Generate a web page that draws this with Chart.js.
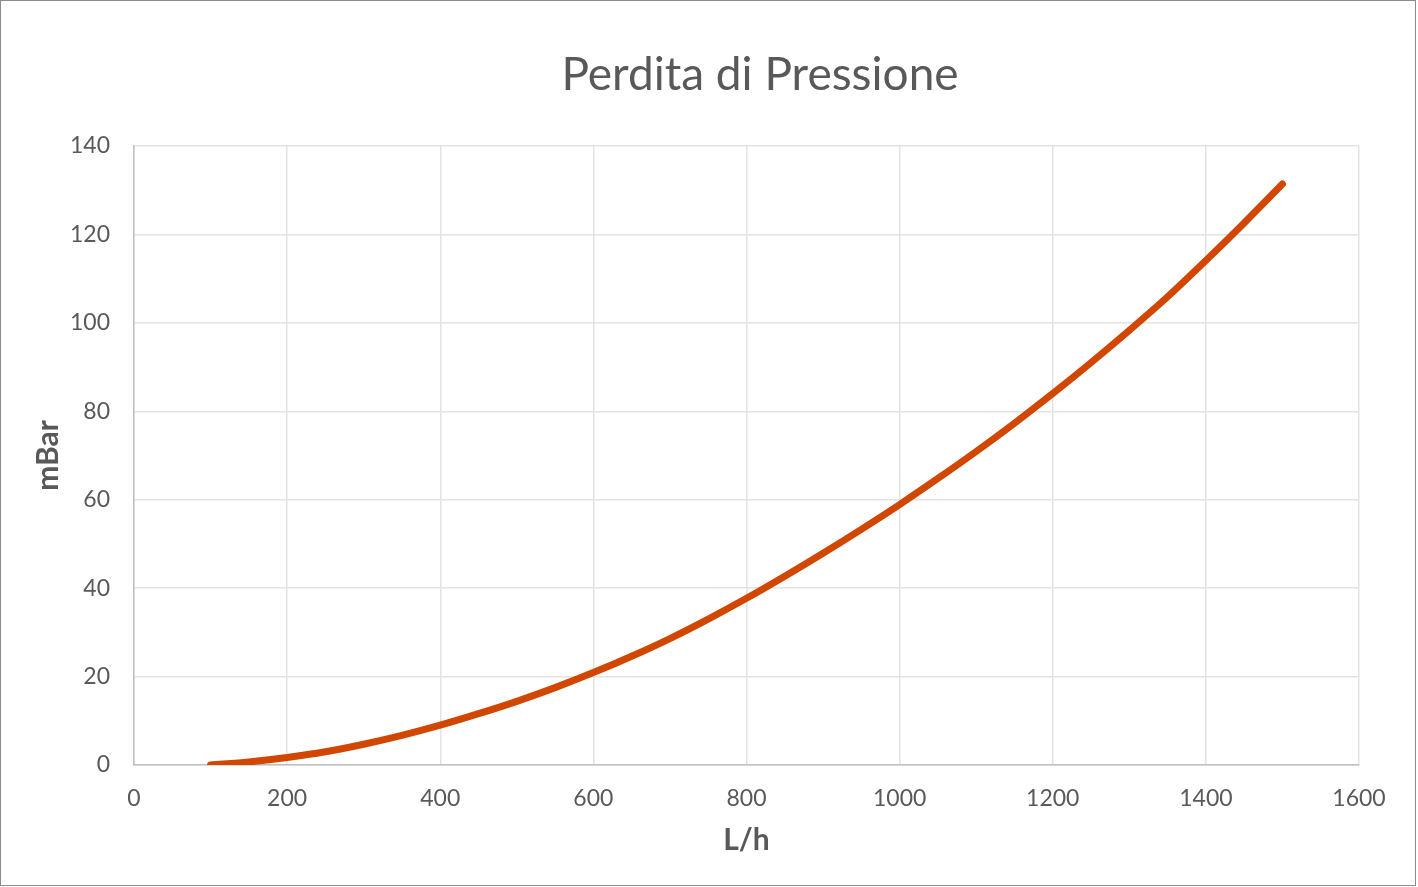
<!DOCTYPE html>
<html>
<head>
<meta charset="utf-8">
<script src="https://cdn.jsdelivr.net/npm/chart.js@4.4.1/dist/chart.umd.min.js"></script>
<style>
  html, body { margin: 0; padding: 0; background: #ffffff; }
  #wrap { position: absolute; left: 0; top: 0; width: 1418px; height: 887px; }
</style>
</head>
<body>
<div id="wrap"><canvas id="c" width="1418" height="887"></canvas></div>
<script>
const chartTitle = "Perdita di Pressione";
const xTitle = "L/h";
const yTitle = "mBar";
const flowLh = [100, 150, 200, 250, 300, 350, 400, 450, 500, 550, 600, 650, 700, 750, 800, 850, 900, 950, 1000, 1050, 1100, 1150, 1200, 1250, 1300, 1350, 1400, 1450, 1500];
const lossMbar = [0, 0.7, 1.7, 3.0, 4.7, 6.7, 9.0, 11.6, 14.4, 17.5, 20.9, 24.6, 28.6, 33.0, 37.7, 42.7, 47.9, 53.3, 58.9, 64.8, 70.9, 77.3, 84.0, 91.0, 98.3, 105.9, 114.1, 122.6, 131.4];
const xTicks = [0, 200, 400, 600, 800, 1000, 1200, 1400, 1600];
const yTicks = [0, 20, 40, 60, 80, 100, 120, 140];

const points = flowLh.map((x, i) => ({ x: x, y: lossMbar[i] }));
const TXT = '#595959';
const FONT = 'Lato, "Open Sans", sans-serif';

const frame = {
  id: 'frame',
  afterDraw(chart) {
    const ctx = chart.ctx;
    ctx.save();
    ctx.fillStyle = TXT;
    ctx.font = '46px ' + FONT;
    ctx.textAlign = 'center';
    ctx.textBaseline = 'middle';
    ctx.fillText(chartTitle, 760, 75);
    ctx.strokeStyle = '#8c8c8c';
    ctx.lineWidth = 1;
    ctx.strokeRect(0.5, 0.5, 1415, 885);
    ctx.restore();
  }
};

new Chart(document.getElementById('c'), {
  type: 'scatter',
  data: {
    datasets: [{
      data: points,
      showLine: true,
      borderColor: '#d24700',
      backgroundColor: '#d24700',
      borderWidth: 7,
      borderCapStyle: 'round',
      borderJoinStyle: 'round',
      pointRadius: 0,
      cubicInterpolationMode: 'monotone'
    }]
  },
  options: {
    responsive: false,
    animation: false,
    devicePixelRatio: 1,
    layout: { padding: { top: 146, right: 59, left: 0, bottom: 0 } },
    plugins: { legend: { display: false }, tooltip: { enabled: false }, title: { display: false } },
    scales: {
      x: {
        type: 'linear',
        min: 0, max: 1600,
        afterBuildTicks: (s) => { s.ticks = xTicks.map(v => ({ value: v })); },
        afterFit: (s) => { s.height = 122; },
        grid: { color: '#e3e3e3', lineWidth: 1.5, drawTicks: false },
        border: { display: true, color: '#bfbfbf', width: 1.5 },
        ticks: { color: TXT, font: { family: FONT, size: 23 }, padding: 20, maxRotation: 0, callback: (v) => String(v) },
        title: { display: true, text: xTitle, color: TXT, font: { family: FONT, size: 30, weight: 'bold' }, padding: { top: 0, bottom: 29 } }
      },
      y: {
        type: 'linear',
        min: 0, max: 140,
        afterBuildTicks: (s) => { s.ticks = yTicks.map(v => ({ value: v })); },
        afterFit: (s) => { s.width = 134; },
        grid: { color: '#e3e3e3', lineWidth: 1.5, drawTicks: false },
        border: { display: true, color: '#bfbfbf', width: 1.5 },
        ticks: { color: TXT, font: { family: FONT, size: 23 }, padding: 24, callback: (v) => String(v) },
        title: { display: true, text: yTitle, color: TXT, font: { family: FONT, size: 30, weight: 'bold' }, padding: { top: 30, bottom: 0 } }
      }
    }
  },
  plugins: [frame]
});
</script>
</body>
</html>
